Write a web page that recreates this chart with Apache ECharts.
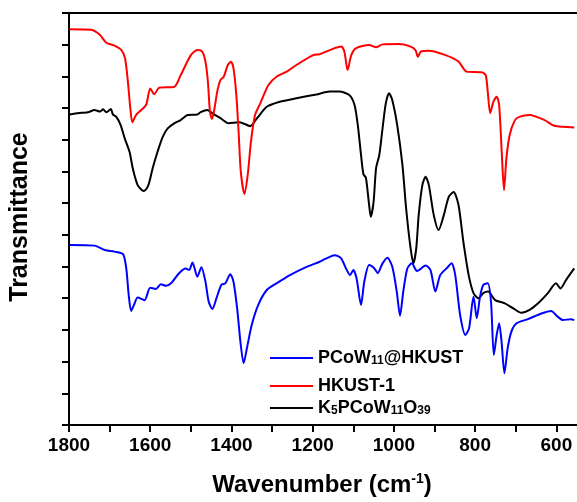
<!DOCTYPE html>
<html>
<head>
<meta charset="utf-8">
<script src="https://cdn.jsdelivr.net/npm/echarts@6/dist/echarts.min.js"></script>
<style>
html,body{margin:0;padding:0;background:#fff;overflow:hidden;width:577px;height:502px;}
#chart{width:600px;height:502px;}
</style>
</head>
<body>
<div id="chart"></div>
<script>
// Wavenumber (cm-1) and transmittance (a.u.)
var wnRed = [1798,1745,1724,1708,1688,1671,1662,1655,1649,1644,1635,1622,1610,1600,1590,1578,1541,1525,1500,1484,1472,1464,1458,1453,1448,1443,1435,1427,1419,1409,1401,1395,1388,1382,1377,1368,1360,1352,1342,1329,1309,1289,1264,1240,1199,1183,1158,1130,1122,1114,1105,1093,1061,1044,1028,987,959,947,941,934,914,873,841,821,784,774,769,763,755,747,741,735,729,723,715,702,690,666,629,605,556];
var tRed = [124.9,124.7,123.1,120.6,119.7,118.3,115.7,108.3,99.9,95.5,97.8,99.4,101.0,106.2,104.4,106.4,106.7,110.4,116.7,118.3,117.8,114.6,108.3,98.9,96.6,98.9,105.2,108.9,109.9,113.6,114.6,112.5,104.1,91.5,79.9,72.9,78.9,89.4,97.8,101.5,107.3,109.9,111.5,113.6,116.7,117.0,118.3,119.4,117.8,112.0,116.7,118.9,119.9,119.2,120.1,120.2,119.4,118.3,116.2,117.8,118.1,116.7,114.7,111.5,111.3,110.4,105.2,98.4,102.0,103.6,101.0,87.3,74.1,84.2,91.5,96.2,97.3,97.8,96.2,94.4,93.9];

var wnBlk = [1798,1769,1753,1737,1724,1716,1708,1697,1692,1684,1673,1663,1651,1643,1631,1616,1605,1594,1582,1569,1557,1541,1525,1508,1484,1476,1460,1443,1427,1407,1382,1366,1354,1337,1313,1281,1240,1191,1158,1134,1110,1097,1089,1081,1075,1069,1062,1057,1050,1044,1036,1028,1020,1012,1004,992,979,970,959,952,945,939,930,922,914,902,890,877,865,853,841,829,816,804,792,780,768,751,727,706,686,666,645,621,601,590,576,556];
var tBlk = [98.0,98.5,98.7,99.4,98.9,99.6,98.7,99.7,98.0,97.3,94.7,90.5,86.2,81.0,75.7,73.8,75.5,81.0,86.2,91.0,93.6,95.2,96.2,97.8,98.0,98.7,99.4,98.0,96.8,95.2,95.5,94.9,94.3,96.8,100.4,102.0,103.1,104.3,105.2,105.2,104.1,101.0,94.7,85.2,79.1,78.0,70.5,65.7,70.5,81.0,85.2,93.6,101.5,104.7,102.5,94.7,82.0,68.4,55.8,51.0,55.8,66.3,75.7,78.3,75.7,66.3,61.5,66.3,72.0,73.5,69.4,57.8,47.3,41.6,40.0,41.6,42.1,39.4,38.4,36.8,35.4,36.3,38.4,41.6,44.7,43.1,45.8,49.4];

var wnBlu = [1798,1737,1712,1688,1667,1659,1653,1647,1640,1631,1614,1600,1586,1574,1561,1549,1529,1513,1504,1496,1484,1474,1464,1456,1447,1437,1425,1415,1403,1395,1386,1378,1370,1362,1350,1334,1313,1289,1256,1215,1183,1166,1146,1130,1118,1108,1100,1092,1081,1073,1061,1048,1040,1028,1016,1004,993,985,977,967,956,943,922,910,898,886,869,858,849,837,824,815,804,796,788,780,769,761,754,747,741,735,728,720,711,698,670,637,613,597,584,564,556];
var tBlu = [56.8,56.6,55.2,54.7,53.9,49.4,41.0,36.0,37.9,40.2,39.4,43.3,42.9,44.4,43.9,44.7,47.9,49.4,48.9,51.3,46.8,49.8,45.2,38.9,36.6,40.0,44.2,44.7,47.6,45.2,36.8,26.3,19.5,24.2,31.6,37.9,42.6,44.7,47.3,49.9,51.5,52.6,53.6,52.6,49.4,47.3,48.9,46.3,37.9,45.2,50.5,49.4,47.9,51.0,52.8,49.9,42.1,34.5,42.1,49.4,51.0,48.6,50.3,48.9,42.1,47.3,49.6,51.0,47.3,34.7,28.4,30.5,40.5,33.7,40.5,44.2,44.7,38.9,22.1,28.4,32.1,26.3,16.3,24.2,29.4,32.1,33.4,35.2,36.0,34.2,33.1,33.4,33.1];

var seriesNames = ['PCoW11@HKUST', 'HKUST-1', 'K5PCoW11O39'];
var seriesColors = ['#0000ff', '#ff0000', '#000000'];
var xTickLabels = [1800, 1600, 1400, 1200, 1000, 800, 600];

function zip(a, b) { return a.map(function (v, i) { return [v, b[i]]; }); }

var FONT = 'Arial, "Liberation Sans", sans-serif';
var richLegend = {
  m: { fontSize: 18, fontWeight: 'bold', fontFamily: FONT, color: '#000', lineHeight: 18, verticalAlign: 'top' },
  s: { fontSize: 12, fontWeight: 'bold', fontFamily: FONT, color: '#000', lineHeight: 12, verticalAlign: 'bottom', padding: [9, 0, 0, 0] }
};
var legendText = {
  'PCoW11@HKUST': '{m|PCoW}{s|11}{m|@HKUST}',
  'HKUST-1': '{m|HKUST-1}{s| }',
  'K5PCoW11O39': '{m|K}{s|5}{m|PCoW}{s|11}{m|O}{s|39}'
};
var legendTops = [346, 374, 396];

function makeLegend(i) {
  return {
    data: [seriesNames[i]],
    left: 270,
    top: legendTops[i],
    orient: 'vertical',
    icon: 'rect',
    itemWidth: 43,
    itemHeight: 2,
    itemGap: 0,
    selectedMode: false,
    padding: 0,
    formatter: function (n) { return legendText[n]; },
    textStyle: { rich: richLegend }
  };
}

var chart = echarts.init(document.getElementById('chart'), null, { renderer: 'canvas' });
chart.setOption({
  animation: false,
  backgroundColor: '#ffffff',
  grid: {
    left: 67, right: 0, top: 13, bottom: 77,
    show: true, borderColor: '#000', borderWidth: 2, backgroundColor: 'transparent'
  },
  legend: [makeLegend(0), makeLegend(1), makeLegend(2)],
  xAxis: {
    type: 'value',
    inverse: true,
    min: 500,
    max: 1800,
    interval: 100,
    name: '{m|Wavenumber (cm}{sup|-1}{m|)}',
    nameLocation: 'middle',
    nameGap: 46,
    nameTextStyle: {
      padding: [0, 22, 0, 0],
      rich: {
        m: { fontSize: 24, fontWeight: 'bold', fontFamily: FONT, color: '#000', lineHeight: 28 },
        sup: { fontSize: 14, fontWeight: 'bold', fontFamily: FONT, color: '#000', lineHeight: 14, verticalAlign: 'top', padding: [1, 0, 0, 0] }
      }
    },
    axisLine: { show: true, onZero: false, lineStyle: { color: '#000', width: 2 } },
    axisTick: { show: true, inside: false, length: 7, lineStyle: { color: '#000', width: 2 } },
    axisLabel: {
      show: true,
      margin: 11,
      fontSize: 19,
      fontWeight: 'bold',
      fontFamily: FONT,
      color: '#000',
      formatter: function (v) { return xTickLabels.indexOf(v) >= 0 ? String(v) : ''; }
    },
    splitLine: { show: false }
  },
  yAxis: {
    type: 'value',
    min: 0,
    max: 130,
    interval: 10,
    name: 'Transmittance',
    nameLocation: 'middle',
    nameGap: 36,
    nameTextStyle: { fontSize: 25, fontWeight: 'bold', fontFamily: FONT, color: '#000', padding: [0, 0, 0, 4] },
    axisLine: { show: true, onZero: false, lineStyle: { color: '#000', width: 2 } },
    axisTick: { show: true, inside: false, length: 7, lineStyle: { color: '#000', width: 2 } },
    axisLabel: { show: false },
    splitLine: { show: false }
  },
  series: [
    { name: seriesNames[0], type: 'line', data: zip(wnBlu, tBlu), color: seriesColors[0], showSymbol: false, smooth: 0.25, lineStyle: { width: 2 }, z: 3 },
    { name: seriesNames[1], type: 'line', data: zip(wnRed, tRed), color: seriesColors[1], showSymbol: false, smooth: 0.25, lineStyle: { width: 2 }, z: 2 },
    { name: seriesNames[2], type: 'line', data: zip(wnBlk, tBlk), color: seriesColors[2], showSymbol: false, smooth: 0.25, lineStyle: { width: 2 }, z: 1 }
  ]
});
</script>
</body>
</html>
